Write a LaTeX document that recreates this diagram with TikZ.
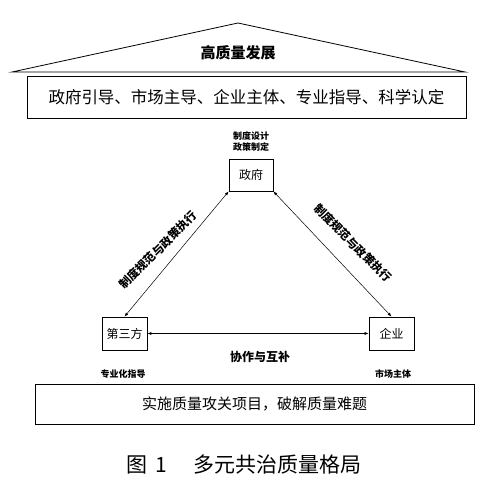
\documentclass[tikz,border=0pt]{standalone}
\usepackage{fontspec}
\setmainfont{Noto Sans CJK SC}
\usetikzlibrary{positioning,arrows.meta}
\tikzset{
  band/.style={draw,line width=0.8pt,minimum width=439pt,inner sep=0pt},
  entity/.style={draw,line width=0.8pt,minimum width=45pt,minimum height=33pt,inner sep=0pt,font=\fontsize{12}{14}\selectfont},
  note/.style={font=\bfseries\fontsize{9}{11}\selectfont,align=center,inner sep=0pt},
  link/.style={line width=0.5pt,{Latex[length=4pt,width=3pt]}-{Latex[length=4pt,width=3pt]}},
  slant/.style={font=\bfseries\fontsize{11.5}{14}\selectfont,inner sep=0pt}
}

\begin{document}
\begin{tikzpicture}[x=1pt,y=-1pt]
\useasboundingbox (0,0) rectangle (501,486);
% roof
\coordinate (roofL) at (12,72);
\coordinate (roofT) at (238,23);
\coordinate (roofR) at (465,72);
\draw[line width=0.8pt] (roofL) -- (roofT) -- (roofR) -- cycle;
\node[font=\bfseries\fontsize{15}{18}\selectfont] (goal) at (238,53) {高质量发展};
\node[band,minimum height=42pt,font=\fontsize{16.5}{20}\selectfont] (principle) at (246.5,97)
  {政府引导、市场主导、企业主体、专业指导、科学认定};

% triangle of actors
\node[entity,minimum width=44pt,minimum height=32pt] (gov) at (251,175) {政府};
\node[entity] (third) at (124.5,333.5) {第三方};
\node[entity] (firm) at (391.5,333.5) {企业};
\node[note] (govrole) at (251,141.5) {制度设计\\政策制定};
\node[note] (thirdrole) at (123,374) {专业化指导};
\node[note] (firmrole) at (393,374) {市场主体};

\draw[link] (gov.south west) -- (third.north);
\draw[link] (gov.south east) -- (firm.north);
\draw[link] (third.east) -- (firm.west);
\node[slant,rotate=45] (leftlab) at (158,250) {制度规范与政策执行};
\node[slant,rotate=-45] (rightlab) at (353,243) {制度规范与政策执行};
\node[font=\bfseries\fontsize{12}{14}\selectfont] (cooplab) at (260,357) {协作与互补};

% bottom
\node[band,minimum height=40pt,font=\fontsize{15}{18}\selectfont] (project) at (254.5,404)
  {实施质量攻关项目，破解质量难题};
\node[font=\fontsize{21}{24}\selectfont] (caption) at (244,465) {图\hspace{0.35em}1\hspace{1.25em}多元共治质量格局};
\end{tikzpicture}
\end{document}
